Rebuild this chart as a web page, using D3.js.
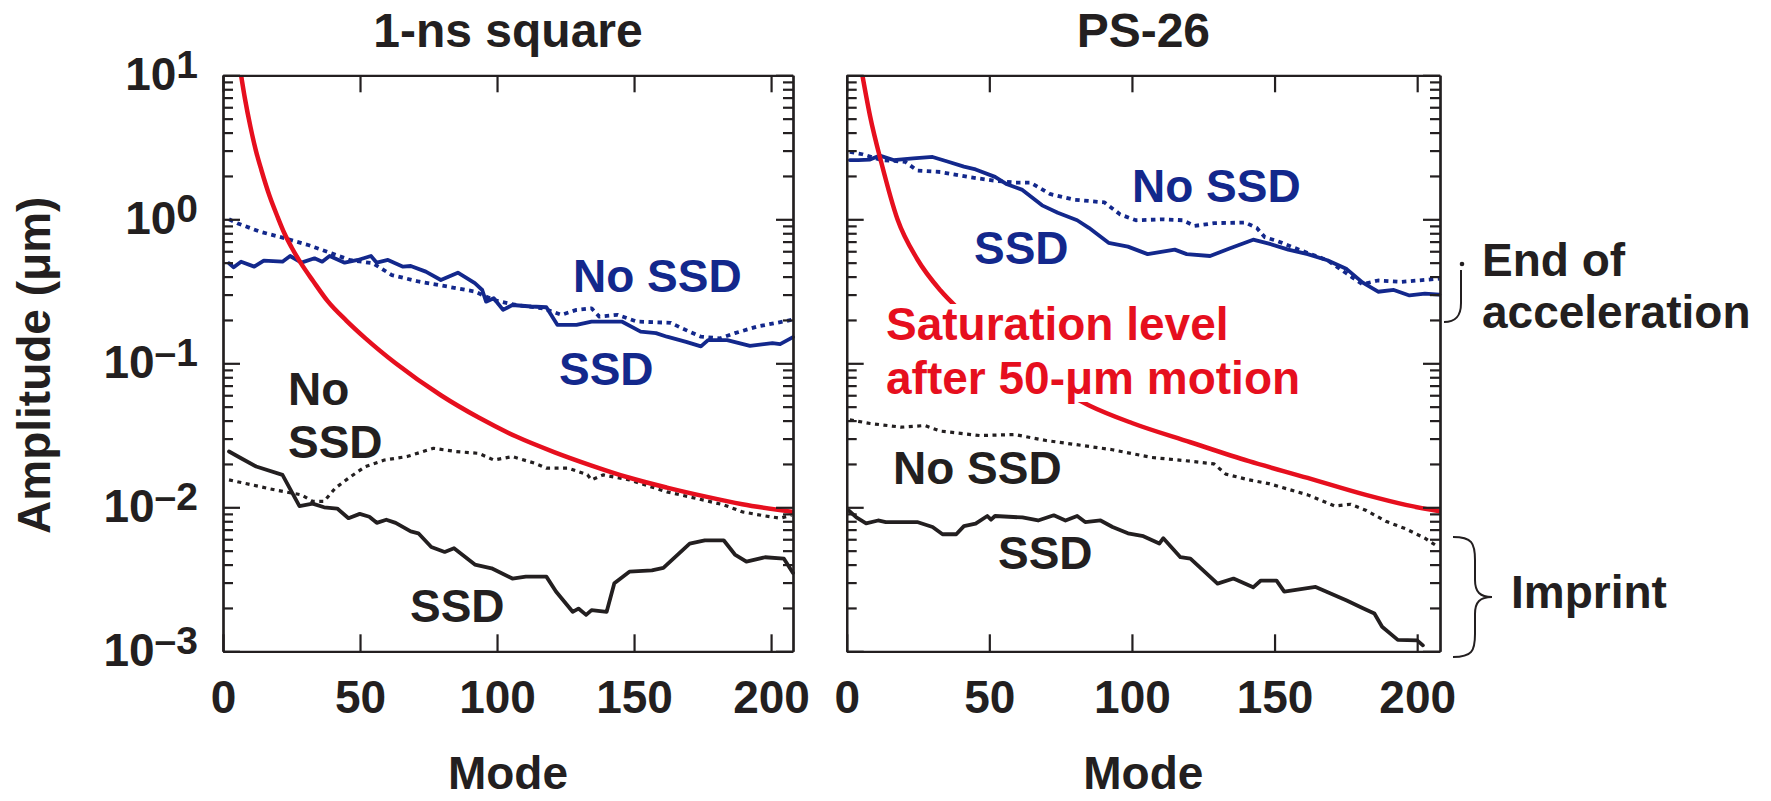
<!DOCTYPE html>
<html><head><meta charset="utf-8">
<script src="https://cdn.jsdelivr.net/npm/d3@7"></script>
<style>
body{margin:0;background:#fff}
svg{display:block}
text{font-family:"Liberation Sans",Arial,Helvetica,sans-serif;font-weight:bold}
</style></head><body>
<svg id="chart" width="1771" height="801"></svg>
<script>
// ---------- data ----------
const panelTitles = ["1-ns square", "PS-26"];
const modeTicks = [0, 50, 100, 150, 200];
const ampDecades = [10, 1, 0.1, 0.01, 0.001];
const ampExponents = ["1", "0", "\u20131", "\u20132", "\u20133"];
const xLabel = "Mode";
const yLabel = "Amplitude (\u03bcm)";

// 1-ns square panel: [mode, amplitude in um]
const sqSaturation = [[6.6,10],[8,6.9],[10,4.4],[12,3.0],[14,2.2],[17,1.45],[20,1.03],[22.4,0.8],[25,0.64],[28.3,0.50],[33,0.37],[38.2,0.27],[45,0.198],[52,0.149],[63,0.1],[79.5,0.06],[93.3,0.042],[107,0.031],[120.8,0.0242],[134.5,0.0195],[148,0.0161],[162,0.0137],[175.8,0.0119],[189.5,0.0105],[207.5,0.0093]];
const sqEndNoSSD = [[2.2,1.0],[5.2,0.94],[13.5,0.82],[22.4,0.74],[31.4,0.66],[39.6,0.58],[46.5,0.52],[54.7,0.495],[61.6,0.41],[71.3,0.37],[82.3,0.34],[91.9,0.315],[98.8,0.275],[107,0.254],[116.6,0.241],[123.5,0.217],[129,0.235],[134.5,0.241],[137.3,0.211],[144,0.217],[151,0.195],[163.4,0.191],[167.5,0.175],[174.4,0.153],[181.3,0.149],[186.8,0.162],[195,0.18],[207.4,0.2]];
const sqEndSSD = [[2.2,0.495],[3.9,0.464],[6.6,0.508],[11.4,0.469],[14.9,0.516],[21.7,0.508],[24.5,0.556],[28.6,0.5],[33.4,0.536],[36.2,0.508],[38.9,0.556],[44.4,0.5],[49.2,0.522],[54,0.556],[56.1,0.5],[60.2,0.522],[65.7,0.469],[68.5,0.474],[74,0.433],[79.5,0.379],[85.7,0.426],[91.9,0.36],[94.6,0.323],[96,0.268],[98.8,0.283],[102.2,0.235],[105.6,0.254],[112.5,0.248],[118,0.245],[122,0.185],[129,0.185],[134.5,0.195],[145.5,0.195],[152.4,0.166],[158,0.162],[162,0.153],[169,0.141],[174.4,0.131],[177,0.145],[184,0.145],[192.3,0.132],[200.5,0.138],[203.3,0.136],[208,0.152]];
const sqImprintNoSSD = [[2.2,0.0155],[10.7,0.0143],[19,0.0132],[28.6,0.0122],[32.7,0.011],[36.9,0.011],[41,0.0136],[46.5,0.0163],[52,0.0192],[58.9,0.0213],[67.1,0.0225],[76.8,0.0257],[85,0.0244],[93.3,0.0237],[98.8,0.0213],[105.6,0.0225],[113.9,0.0202],[118,0.0187],[126,0.0187],[133,0.0168],[134.5,0.0155],[138.7,0.0168],[148.3,0.0155],[162,0.0128],[173,0.0115],[182.7,0.0104],[189.5,0.0093],[196.4,0.0088],[203.3,0.0084],[207.4,0.0088]];
const sqImprintSSD = [[2.2,0.0244],[6.6,0.0219],[12.1,0.0192],[21.7,0.0168],[27.9,0.0102],[32.7,0.0106],[36.9,0.0100],[41.7,0.0098],[45.8,0.0084],[49.9,0.0090],[53.4,0.0086],[56.1,0.0078],[59.6,0.0082],[63,0.0078],[68.5,0.0068],[71.3,0.0066],[76,0.0053],[80.9,0.0049],[84.3,0.0052],[91.9,0.0040],[98,0.00377],[105.6,0.0032],[110.5,0.0033],[118,0.0033],[121.5,0.0026],[127.6,0.00188],[129.7,0.00198],[132.5,0.00179],[134.5,0.00193],[140,0.00188],[142.8,0.00297],[148.3,0.00357],[156.5,0.00365],[160.7,0.0038],[170.3,0.0056],[175.8,0.0059],[182.7,0.0059],[186.8,0.0047],[191,0.0042],[197.8,0.0045],[204.7,0.0044],[208,0.0035]];

// PS-26 panel: [mode, amplitude in um]
const psSaturation = [[5.5,10],[8.2,5.2],[12.2,2.45],[17.8,1.0],[24.7,0.53],[32.9,0.32],[40.5,0.225],[60,0.103],[85,0.051],[100,0.0385],[120.5,0.0283],[141,0.0209],[161.6,0.016],[182,0.0122],[196,0.0104],[207.5,0.0094]];
const psEndNoSSD = [[1.1,2.94],[5.5,2.83],[12.3,2.58],[20.5,2.51],[24.7,2.18],[32.9,2.13],[42.5,1.97],[52,1.85],[58.9,1.8],[64.4,1.8],[71.2,1.5],[79.5,1.37],[90.4,1.31],[95.9,1.08],[101.4,0.985],[111,1.0],[117.8,0.985],[121.9,0.9],[128.8,0.94],[139.7,0.95],[143.8,0.87],[146.6,0.75],[150.7,0.71],[159,0.61],[168.5,0.52],[175.3,0.42],[180.8,0.354],[186.3,0.376],[194.5,0.368],[207.8,0.387]];
const psEndSSD = [[1.1,2.58],[4.1,2.58],[8.2,2.6],[11.6,2.77],[16.4,2.58],[23.3,2.65],[30.1,2.71],[35.6,2.51],[41.1,2.32],[45.2,2.22],[52,1.97],[56.2,1.75],[61.6,1.6],[68.5,1.25],[74,1.11],[80.8,0.985],[84.9,0.873],[91.8,0.687],[98.6,0.646],[105.5,0.573],[115,0.616],[119.2,0.573],[127.4,0.556],[134.2,0.627],[142.5,0.722],[148,0.678],[154.8,0.616],[161.6,0.573],[168.5,0.52],[175.3,0.451],[180.8,0.365],[186.3,0.314],[191.8,0.323],[197.3,0.296],[202.7,0.305],[207.8,0.30]];
const psImprintNoSSD = [[1.1,0.0405],[8.2,0.0382],[19.2,0.036],[27.4,0.037],[32.9,0.0338],[38.4,0.0329],[46.6,0.0315],[58.9,0.032],[69.9,0.0291],[79.5,0.0274],[93.2,0.0251],[106.8,0.0222],[120.5,0.0209],[128.8,0.02],[132.9,0.017],[141,0.0155],[148,0.0146],[161.6,0.0122],[171.2,0.0102],[176.7,0.0105],[182.2,0.0095],[189,0.008],[195.9,0.0071],[202.7,0.0061],[206.8,0.0054]];
const psImprintSSD = [[0.7,0.0095],[3.4,0.0085],[6.8,0.00774],[11,0.0081],[13.7,0.0079],[24.7,0.0079],[30.1,0.0073],[33.6,0.0065],[38.4,0.0065],[41.1,0.0074],[45.2,0.0077],[49.3,0.0087],[50.6,0.0082],[52,0.0087],[61.6,0.0085],[67.1,0.0081],[72.6,0.0088],[76.7,0.0081],[80.8,0.0087],[83.6,0.0079],[89,0.0081],[93.2,0.0073],[98.6,0.0066],[104,0.0063],[109.6,0.0056],[111,0.0061],[117,0.0045],[120.5,0.0044],[130,0.00295],[135.6,0.0032],[142.5,0.00278],[145.2,0.0031],[150.7,0.0031],[153.4,0.0026],[164.4,0.0028],[175.3,0.00225],[180.8,0.002],[185,0.00183],[187.7,0.00148],[193.2,0.0012],[200,0.00119],[202,0.0011]];

// ---------- drawing ----------
const RED = "#e60f1e", BLUE = "#13288c", INK = "#231f20";
const TOP = 75.3, BOTTOM = 651.3, FS = 46;
const svg = d3.select("#chart");
svg.append("rect").attr("width", 1771).attr("height", 801).attr("fill", "#fff");

const panels = [
  { x0: 223, x1: 793, title: panelTitles[0], yLabels: true,
    series: [
      { data: sqImprintNoSSD, color: INK, w: 3.2, dash: "4,4.5" },
      { data: sqImprintSSD, color: INK, w: 3.8 },
      { data: sqEndNoSSD, color: BLUE, w: 3.8, dash: "4.5,4.5" },
      { data: sqEndSSD, color: BLUE, w: 3.8 },
      { data: sqSaturation, color: RED, w: 4.5, smooth: true }
    ],
    labels: [
      { t: "No SSD", x: 573, y: 292, c: BLUE },
      { t: "SSD", x: 559, y: 385, c: BLUE },
      { t: "No", x: 288, y: 405, c: INK },
      { t: "SSD", x: 288, y: 458, c: INK },
      { t: "SSD", x: 410, y: 622, c: INK }
    ] },
  { x0: 846.7, x1: 1440, title: panelTitles[1], yLabels: false,
    series: [
      { data: psImprintNoSSD, color: INK, w: 3.2, dash: "4,4.5" },
      { data: psImprintSSD, color: INK, w: 3.8 },
      { data: psEndNoSSD, color: BLUE, w: 3.8, dash: "4.5,4.5" },
      { data: psEndSSD, color: BLUE, w: 3.8 },
      { data: psSaturation, color: RED, w: 4.5, smooth: true }
    ],
    labels: [
      { t: "No SSD", x: 1132, y: 202, c: BLUE },
      { t: "SSD", x: 974, y: 264, c: BLUE },
      { t: "Saturation level", x: 886, y: 340, c: RED, box: true },
      { t: "after 50-\u03bcm motion", x: 886, y: 394, c: RED, box: true },
      { t: "No SSD", x: 893, y: 484, c: INK },
      { t: "SSD", x: 998, y: 569, c: INK }
    ] }
];

const minorTicks = [];
[-3, -2, -1, 0].forEach(e => { for (let m = 2; m <= 9; m++) minorTicks.push(m * Math.pow(10, e)); });

panels.forEach((p, i) => {
  const x = d3.scaleLinear().domain([0, 208]).range([p.x0, p.x1]);
  const y = d3.scaleLog().domain([1e-3, 10]).range([BOTTOM, TOP]);
  const clipId = "clip" + i;
  svg.append("clipPath").attr("id", clipId).append("rect")
    .attr("x", p.x0).attr("y", TOP).attr("width", p.x1 - p.x0 + 2).attr("height", BOTTOM - TOP);

  const gLines = svg.append("g").attr("clip-path", `url(#${clipId})`);
  p.series.forEach(s => {
    const line = d3.line().x(d => x(d[0])).y(d => y(d[1])).curve(s.smooth ? d3.curveMonotoneX : d3.curveLinear);
    gLines.append("path").datum(s.data).attr("d", line)
      .attr("fill", "none").attr("stroke", s.color).attr("stroke-width", s.w)
      .attr("stroke-linejoin", "round").attr("stroke-linecap", s.dash ? "butt" : "round")
      .attr("stroke-dasharray", s.dash || null);
  });

  // annotation labels (boxed ones share one white backing box)
  const gLab = svg.append("g");
  const boxed = [];
  p.labels.forEach(l => {
    const t = gLab.append("text").attr("x", l.x).attr("y", l.y).attr("fill", l.c)
      .attr("font-size", FS).text(l.t);
    if (l.box) boxed.push(t.node().getBBox());
  });
  if (boxed.length) {
    const bx0 = d3.min(boxed, b => b.x) - 4, bx1 = d3.max(boxed, b => b.x + b.width) + 4;
    const by0 = d3.min(boxed, b => b.y) + 6, by1 = d3.max(boxed, b => b.y + b.height) - 2;
    gLab.insert("rect", "text").attr("x", bx0).attr("y", by0)
      .attr("width", bx1 - bx0).attr("height", by1 - by0).attr("fill", "#fff");
  }

  // axes / frame
  const styleAxis = g => {
    g.selectAll("path.domain").attr("stroke", INK).attr("stroke-width", 2.2);
    g.selectAll(".tick line").attr("stroke", INK).attr("stroke-width", 2.2);
  };
  svg.append("g").attr("transform", `translate(0,${BOTTOM})`)
    .call(d3.axisBottom(x).tickValues(modeTicks).tickSizeInner(-17).tickSizeOuter(0).tickPadding(29))
    .call(styleAxis)
    .call(g => g.selectAll("text").attr("font-size", FS).attr("fill", INK)
      .attr("font-family", '"Liberation Sans",Arial,sans-serif').attr("font-weight", "bold"));
  svg.append("g").attr("transform", `translate(0,${TOP})`)
    .call(d3.axisTop(x).tickValues(modeTicks).tickSizeInner(-17).tickSizeOuter(0).tickFormat(""))
    .call(styleAxis);
  svg.append("g").attr("transform", `translate(${p.x0},0)`)
    .call(d3.axisLeft(y).tickValues(ampDecades).tickSizeInner(-17).tickSizeOuter(0).tickFormat(""))
    .call(styleAxis);
  svg.append("g").attr("transform", `translate(${p.x0},0)`)
    .call(d3.axisLeft(y).tickValues(minorTicks).tickSizeInner(-10).tickSizeOuter(0).tickFormat(""))
    .call(styleAxis);
  svg.append("g").attr("transform", `translate(${p.x1},0)`)
    .call(d3.axisRight(y).tickValues(ampDecades).tickSizeInner(-17).tickSizeOuter(0).tickFormat(""))
    .call(styleAxis);
  svg.append("g").attr("transform", `translate(${p.x1},0)`)
    .call(d3.axisRight(y).tickValues(minorTicks).tickSizeInner(-10).tickSizeOuter(0).tickFormat(""))
    .call(styleAxis);

  if (p.yLabels) {
    ampDecades.forEach((v, k) => {
      const t = svg.append("text").attr("x", p.x0 - 25).attr("y", y(v) + 15)
        .attr("text-anchor", "end").attr("fill", INK).attr("font-size", FS);
      t.append("tspan").text("10");
      t.append("tspan").attr("font-size", 39).attr("dy", -12).text(ampExponents[k]);
    });
    svg.append("text").attr("transform", `translate(50,${(TOP + BOTTOM) / 2 + 2}) rotate(-90)`)
      .attr("text-anchor", "middle").attr("fill", INK).attr("font-size", FS).text(yLabel);
  }

  svg.append("text").attr("x", (p.x0 + p.x1) / 2).attr("y", 47).attr("text-anchor", "middle")
    .attr("fill", INK).attr("font-size", 48).text(p.title);
  svg.append("text").attr("x", (p.x0 + p.x1) / 2).attr("y", 789).attr("text-anchor", "middle")
    .attr("fill", INK).attr("font-size", FS).text(xLabel);
});

// right-side annotations
svg.append("text").attr("x", 1482).attr("y", 276).attr("fill", INK).attr("font-size", FS).text("End of");
svg.append("text").attr("x", 1482).attr("y", 328).attr("fill", INK).attr("font-size", FS).text("acceleration");
svg.append("text").attr("x", 1511).attr("y", 608).attr("fill", INK).attr("font-size", FS).text("Imprint");
svg.append("path")
  .attr("d", "M1461,270 L1461,303 C1461,317 1455,322 1444,322")
  .attr("fill", "none").attr("stroke", INK).attr("stroke-width", 2);
svg.append("circle").attr("cx", 1462).attr("cy", 264).attr("r", 2.3).attr("fill", INK);
svg.append("path")
  .attr("d", "M1453,537 C1472,537 1475,543 1475,560 L1475,580 C1475,592 1480,597 1492,597 C1480,597 1475,602 1475,614 L1475,634 C1475,651 1472,657 1453,657")
  .attr("fill", "none").attr("stroke", INK).attr("stroke-width", 2);
</script></body></html>
